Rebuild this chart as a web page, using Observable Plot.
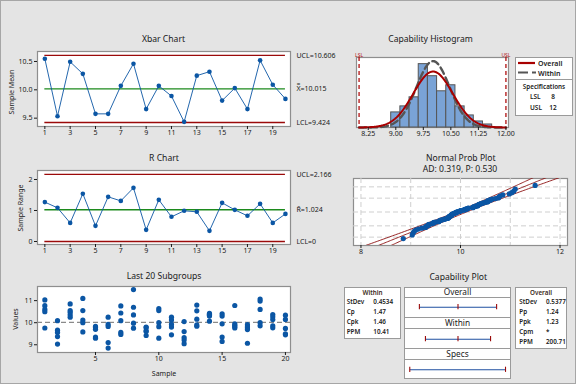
<!DOCTYPE html>
<html><head><meta charset="utf-8">
<script src="https://cdn.jsdelivr.net/npm/d3@7"></script>
<script src="https://cdn.jsdelivr.net/npm/@observablehq/plot@0.6"></script>
<style>
html,body{margin:0;padding:0;background:#e4e4e4;}
#root{position:relative;width:576px;height:384px;background:#e4e4e4;overflow:hidden;font-family:"Noto Sans",sans-serif;color:#1a1a1a;}
</style></head><body><div id="root"></div>
<script>
// ---------- data ----------
const samples = d3.range(1, 21);
const xbarMeans = [10.547, 9.535, 10.494, 10.282, 9.576, 9.576, 10.07, 10.46, 9.66, 10.07, 9.89, 9.435, 10.25, 10.32, 9.81, 10.03, 9.66, 10.52, 10.09, 9.84];
const sampleRanges = [1.27, 1.086, 0.60, 1.54, 0.505, 1.44, 1.31, 1.73, 0.376, 1.344, 0.796, 0.99, 0.957, 0.344, 1.247, 1.02, 0.828, 1.215, 0.60, 0.89];
const subgroupValues = [
  [11.03, 10.77, 10.60, 10.50, 9.76],
  [10.09, 9.66, 9.56, 9.37, 9.03],
  [10.85, 10.55, 10.47, 10.36, 10.25],
  [11.10, 10.55, 10.12, 10.00, 9.58],
  [9.83, 9.78, 9.70, 9.35, 9.30],
  [10.25, 9.92, 9.83, 9.10, 8.85],
  [10.76, 10.44, 10.09, 9.56, 9.47],
  [11.50, 10.70, 10.35, 9.98, 9.75],
  [9.80, 9.78, 9.64, 9.60, 9.42],
  [10.64, 10.55, 10.00, 9.82, 9.30],
  [10.25, 10.12, 9.92, 9.80, 9.45],
  [10.05, 9.60, 9.33, 9.22, 9.05],
  [10.80, 10.54, 10.16, 9.90, 9.84],
  [10.42, 10.38, 10.34, 10.30, 10.07],
  [10.40, 10.30, 9.95, 9.35, 9.15],
  [10.78, 9.95, 9.88, 9.82, 9.76],
  [9.91, 9.82, 9.76, 9.69, 9.07],
  [11.07, 10.98, 10.60, 10.00, 9.86],
  [10.37, 10.27, 10.14, 9.86, 9.77],
  [10.34, 10.15, 9.74, 9.50, 9.45]
];
const xbarLimitNames = ["UCL", "X\u033F", "LCL"];
const xbarLimitValues = [10.606, 10.015, 9.424];
const rLimitNames = ["UCL", "R\u0304", "LCL"];
const rLimitValues = [2.166, 1.024, 0];
const xbarTicks = [1, 3, 5, 7, 9, 11, 13, 15, 17, 19];
const subgroupTicks = [5, 10, 15, 20];
const histBinStarts = [8.875, 9.125, 9.375, 9.625, 9.875, 10.125, 10.375, 10.625, 10.875, 11.125, 11.375];
const histCounts = [5, 7, 10, 21, 17, 12, 14, 7, 4, 2, 1];
const histBinWidth = 0.25;
const histTicks = [8.25, 9.00, 9.75, 10.50, 11.25, 12.00];
const specNames = ["LSL", "USL"];
const specValues = [8, 12];
const processMean = 10.015;
const stdWithin = 0.4534;
const stdOverall = 0.5377;
const probTicks = [8, 10, 12];
const probGridX = [8, 9, 10, 11, 12];
const probGridP = [0.01, 0.1, 0.5, 0.9, 0.99];
const adText = "AD: 0.319, P: 0.530";
const withinStats = [["StDev", "0.4534"], ["Cp", "1.47"], ["Cpk", "1.46"], ["PPM", "10.41"]];
const overallStats = [["StDev", "0.5377"], ["Pp", "1.24"], ["Ppk", "1.23"], ["Cpm", "*"], ["PPM", "200.71"]];

// ---------- helpers ----------
const root = document.getElementById("root");
const FONT = '"Noto Sans", "DejaVu Sans", sans-serif';
const BLUE = "#0b56a4", RED = "#9b0a0a", GREEN = "#1c8a1c", FRAME = "#8e8e8e";

function txt(s, x, y, o = {}) {
  const {size = 7, weight = 400, anchor = "middle", color = "#1a1a1a", rotate = 0} = o;
  const d = document.createElement("div");
  d.textContent = s;
  d.style.cssText = `position:absolute;left:${x}px;top:${y}px;font-size:${size}px;font-weight:${weight};color:${color};white-space:nowrap;line-height:1;font-family:${FONT};`;
  const tx = anchor === "middle" ? "-50%" : anchor === "end" ? "-100%" : "0";
  d.style.transform = `translate(${tx},-50%)` + (rotate ? ` rotate(${rotate}deg)` : "");
  root.appendChild(d);
}
function box(x0, y0, x1, y1, bg = "white", border = "#9a9a9a") {
  const d = document.createElement("div");
  d.style.cssText = `position:absolute;left:${x0}px;top:${y0}px;width:${x1 - x0}px;height:${y1 - y0}px;box-sizing:border-box;border:1px solid ${border};background:${bg};`;
  root.appendChild(d);
}
function panel(frame, m, options) {
  const [x0, y0, x1, y1] = frame; const [mt, mr, mb, ml] = m;
  const svg = Plot.plot({
    width: x1 - x0 + ml + mr, height: y1 - y0 + mt + mb,
    marginTop: mt, marginRight: mr, marginBottom: mb, marginLeft: ml,
    style: {background: "transparent", overflow: "visible", fontFamily: FONT, fontSize: "7px", color: "#1a1a1a"},
    ...options
  });
  svg.style.position = "absolute";
  svg.style.left = (x0 - ml) + "px";
  svg.style.top = (y0 - mt) + "px";
  root.appendChild(svg);
}
function qnorm(p) {
  const a = [-3.969683028665376e+01, 2.209460984245205e+02, -2.759285104469687e+02, 1.383577518672690e+02, -3.066479806614716e+01, 2.506628277459239e+00];
  const b = [-5.447609879822406e+01, 1.615858368580409e+02, -1.556989798598866e+02, 6.680131188771972e+01, -1.328068155288572e+01];
  const c = [-7.784894002430293e-03, -3.223964580411365e-01, -2.400758277161838e+00, -2.549732539343734e+00, 4.374664141464968e+00, 2.938163982698783e+00];
  const d = [7.784695709041462e-03, 3.224671290700398e-01, 2.445134137142996e+00, 3.754408661907416e+00];
  const pl = 0.02425; let q, r;
  if (p < pl) { q = Math.sqrt(-2 * Math.log(p)); return (((((c[0]*q+c[1])*q+c[2])*q+c[3])*q+c[4])*q+c[5])/((((d[0]*q+d[1])*q+d[2])*q+d[3])*q+1); }
  if (p <= 1 - pl) { q = p - 0.5; r = q*q; return (((((a[0]*r+a[1])*r+a[2])*r+a[3])*r+a[4])*r+a[5])*q/(((((b[0]*r+b[1])*r+b[2])*r+b[3])*r+b[4])*r+1); }
  q = Math.sqrt(-2 * Math.log(1 - p)); return -(((((c[0]*q+c[1])*q+c[2])*q+c[3])*q+c[4])*q+c[5])/((((d[0]*q+d[1])*q+d[2])*q+d[3])*q+1);
}
const pdf = (x, m, s) => Math.exp(-0.5 * ((x - m) / s) ** 2) / (s * Math.sqrt(2 * Math.PI));

// ---------- Xbar chart ----------
const xbarData = samples.map((s, i) => ({s, v: xbarMeans[i]}));
const xbarLab = xbarLimitNames.map((n, i) => ({v: xbarLimitValues[i], t: `${n}=${n === "LCL" ? xbarLimitValues[i] : xbarLimitValues[i].toFixed(3)}`}));
panel([37, 51, 290, 126], [4, 62, 14, 37], {
  x: {domain: [0.42, 20.4]}, y: {domain: [9.353, 10.676]},
  marks: [
    Plot.frame({fill: "white", stroke: FRAME, strokeWidth: 1.2}),
    Plot.ruleY([xbarLimitValues[0], xbarLimitValues[2]], {x1: 1, x2: 20, stroke: RED, strokeWidth: 1.3}),
    Plot.ruleY([xbarLimitValues[1]], {x1: 1, x2: 20, stroke: GREEN, strokeWidth: 1.3}),
    Plot.line(xbarData, {x: "s", y: "v", stroke: BLUE, strokeWidth: 0.9}),
    Plot.dot(xbarData, {x: "s", y: "v", r: 2.3, fill: BLUE}),
    Plot.axisX({ticks: xbarTicks, tickSize: 3, tickPadding: 1, label: null, fontSize: 7}),
    Plot.axisY({ticks: [9.5, 10, 10.5], tickFormat: ".1f", tickSize: 3, tickPadding: 2, label: null, fontSize: 7}),
    Plot.text(xbarLab, {y: "v", text: "t", frameAnchor: "right", dx: 6, textAnchor: "start", fontSize: 7})
  ]
});

// ---------- R chart ----------
const rData = samples.map((s, i) => ({s, v: sampleRanges[i]}));
const rLab = rLimitNames.map((n, i) => ({v: rLimitValues[i], t: `${n}=${rLimitValues[i]}`}));
panel([37, 170, 290, 244], [4, 62, 14, 37], {
  x: {domain: [0.42, 20.4]}, y: {domain: [-0.097, 2.29]},
  marks: [
    Plot.frame({fill: "white", stroke: FRAME, strokeWidth: 1.2}),
    Plot.ruleY([rLimitValues[0], rLimitValues[2]], {x1: 1, x2: 20, stroke: RED, strokeWidth: 1.3}),
    Plot.ruleY([rLimitValues[1]], {x1: 1, x2: 20, stroke: GREEN, strokeWidth: 1.3}),
    Plot.line(rData, {x: "s", y: "v", stroke: BLUE, strokeWidth: 0.9}),
    Plot.dot(rData, {x: "s", y: "v", r: 2.3, fill: BLUE}),
    Plot.axisX({ticks: xbarTicks, tickSize: 3, tickPadding: 1, label: null, fontSize: 7}),
    Plot.axisY({ticks: [0, 1, 2], tickFormat: "d", tickSize: 3, tickPadding: 2, label: null, fontSize: 7}),
    Plot.text(rLab, {y: "v", text: "t", frameAnchor: "right", dx: 6, textAnchor: "start", fontSize: 7})
  ]
});

// ---------- Last 20 subgroups ----------
const subData = subgroupValues.flatMap((vals, i) => vals.map(v => ({s: samples[i], v})));
panel([37, 286, 290, 352], [4, 4, 14, 37], {
  x: {domain: [0.42, 20.4]}, y: {domain: [8.65, 11.64]},
  marks: [
    Plot.frame({fill: "white", stroke: FRAME, strokeWidth: 1.2}),
    Plot.ruleY([processMean], {stroke: "#8a8a8a", strokeWidth: 1.4, strokeDasharray: "5,3"}),
    Plot.dot(subData, {x: "s", y: "v", r: 2.6, fill: BLUE}),
    Plot.axisX({ticks: subgroupTicks, tickSize: 3, tickPadding: 1, label: null, fontSize: 7}),
    Plot.axisY({ticks: [9, 10, 11], tickFormat: "d", tickSize: 3, tickPadding: 2, label: null, fontSize: 7})
  ]
});

// ---------- Capability histogram ----------
const histData = histBinStarts.map((s, i) => ({x1: s, x2: s + histBinWidth, y: histCounts[i]}));
const nObs = d3.sum(histCounts);
const curveX = d3.range(8, 12.0001, 0.02);
const overallCurve = curveX.map(x => ({x, y: nObs * histBinWidth * pdf(x, processMean, stdOverall)}));
const withinCurve = curveX.map(x => ({x, y: nObs * histBinWidth * pdf(x, processMean, stdWithin)}));
const specData = specNames.map((n, i) => ({n, v: specValues[i]}));
panel([356, 57, 508, 127], [10, 4, 14, 4], {
  x: {domain: [7.93, 12.07]}, y: {domain: [0, 23.2], axis: null},
  marks: [
    Plot.frame({fill: "white", stroke: FRAME, strokeWidth: 1.2}),
    Plot.rectY(histData, {x1: "x1", x2: "x2", y: "y", fill: "#7aa3d6", stroke: "#555", strokeWidth: 1}),
    Plot.ruleX(specData, {x: "v", stroke: "#b01010", strokeWidth: 1.3, strokeDasharray: "4,3"}),
    Plot.line(withinCurve, {x: "x", y: "y", stroke: "#555", strokeWidth: 2.4, strokeDasharray: "7,4"}),
    Plot.line(overallCurve, {x: "x", y: "y", stroke: "#a80000", strokeWidth: 2}),
    Plot.text(specData, {x: "v", text: "n", frameAnchor: "top", dy: -4, fontSize: 5, fill: "#b01010"}),
    Plot.axisX({ticks: histTicks, tickFormat: ".2f", tickSize: 3, tickPadding: 1, label: null, fontSize: 7})
  ]
});

// legend
box(515, 57, 573, 80);
box(515, 79, 573, 116);
const lg = document.createElementNS("http://www.w3.org/2000/svg", "svg");
lg.setAttribute("width", 30); lg.setAttribute("height", 20);
lg.style.cssText = "position:absolute;left:515px;top:57px;";
lg.innerHTML = `<line x1="3" x2="20" y1="6" y2="6" stroke="#a80000" stroke-width="2.2"/>
<line x1="3" x2="21" y1="15.5" y2="15.5" stroke="#555" stroke-width="2.2" stroke-dasharray="10,4"/>`;
root.appendChild(lg);
txt("Overall", 538, 63, {size: 7, weight: 600, anchor: "start"});
txt("Within", 538, 72.5, {size: 7, weight: 600, anchor: "start"});
txt("Specifications", 544, 87, {size: 6.3, weight: 600});
specNames.forEach((n, i) => {
  txt(n, 530, 97 + i * 10.5, {size: 6.5, weight: 600, anchor: "start"});
  txt(String(specValues[i]), 553, 97 + i * 10.5, {size: 6.5, weight: 600});
});

// ---------- Normal probability plot ----------
const sorted = subData.map(d => d.v).sort(d3.ascending);
const nP = sorted.length;
const probData = sorted.map((v, i) => ({v, z: qnorm((i + 1 - 0.3) / (nP + 0.4))}));
const zLine = d3.range(-3.2, 3.2001, 0.05);
const ciLines = [-1, 0, 1].flatMap(k => zLine.map(z => ({k, z,
  x: processMean + stdOverall * z + k * 1.96 * stdOverall * Math.sqrt(1 / nP + z * z / (2 * (nP - 1)))})));
panel([353, 178, 567, 245], [4, 4, 14, 4], {
  x: {domain: [7.85, 12.15]}, y: {domain: [-3.1, 3.1], axis: null},
  marks: [
    Plot.frame({fill: "white", stroke: FRAME, strokeWidth: 1.2}),
    Plot.ruleX(probGridX, {stroke: "#cfcfcf", strokeDasharray: "5,3"}),
    Plot.ruleY(probGridP.map(qnorm), {stroke: "#cfcfcf", strokeDasharray: "5,3"}),
    Plot.line(ciLines, {x: "x", y: "z", z: "k", stroke: "#8b0d0d", strokeWidth: 0.9, clip: true}),
    Plot.dot(probData, {x: "v", y: "z", r: 2.6, fill: BLUE}),
    Plot.axisX({ticks: probTicks, tickFormat: "d", tickSize: 3, tickPadding: 1, label: null, fontSize: 7})
  ]
});

// ---------- Capability plot ----------
box(404, 287, 511, 298); box(404, 297, 511, 318);
box(404, 317, 511, 329); box(404, 328, 511, 349);
box(404, 348, 511, 360); box(404, 359, 511, 379);
txt("Overall", 457.5, 292.3, {size: 8.3});
txt("Within", 457.5, 323, {size: 8.3});
txt("Specs", 457.5, 354.3, {size: 8.3});
const capRows = [
  {name: "Overall", lo: processMean - 3 * stdOverall, mid: processMean, hi: processMean + 3 * stdOverall, y: 19.7},
  {name: "Within", lo: processMean - 3 * stdWithin, mid: processMean, hi: processMean + 3 * stdWithin, y: 51.7},
  {name: "Specs", lo: specValues[0], mid: null, hi: specValues[1], y: 82.3}
];
const capTicks = capRows.flatMap(r => [r.lo, r.mid, r.hi].filter(v => v != null).map(x => ({x, y: r.y})));
panel([404, 287, 511, 379], [0, 0, 0, 0], {
  x: {domain: [7.78, 12.25], axis: null}, y: {domain: [0, 92], range: [0, 92], axis: null},
  marks: [
    Plot.link(capRows, {x1: "lo", x2: "hi", y1: "y", y2: "y", stroke: "#1f4fa0", strokeWidth: 1.1}),
    Plot.ruleX(capTicks, {x: "x", y1: d => d.y - 2.6, y2: d => d.y + 2.6, stroke: "#9b0a0a", strokeWidth: 1.1})
  ]
});
// stats boxes
box(344, 287, 401, 339);
txt("Within", 372.5, 292.6, {size: 6.3, weight: 600, color: "#3a2a20"});
withinStats.forEach(([k, v], i) => {
  txt(k, 346.7, 302.3 + i * 10, {size: 6.3, weight: 600, anchor: "start"});
  txt(v, 373.3, 302.3 + i * 10, {size: 6.3, weight: 600, anchor: "start"});
});
box(515, 287, 567, 349);
txt("Overall", 541, 292.6, {size: 6.3, weight: 600, color: "#3a2a20"});
overallStats.forEach(([k, v], i) => {
  txt(k, 519.3, 302.3 + i * 10, {size: 6.3, weight: 600, anchor: "start"});
  txt(v, 546, 302.3 + i * 10, {size: 6.3, weight: 600, anchor: "start"});
});

// ---------- titles & axis labels ----------
txt("Xbar Chart", 163.5, 38.5, {size: 8.6});
txt("R Chart", 164, 157.7, {size: 8.6});
txt("Last 20 Subgroups", 164, 276, {size: 8.6});
txt("Capability Histogram", 430.5, 38.5, {size: 8.6});
txt("Normal Prob Plot", 460.8, 157.7, {size: 8.6});
txt(adText, 460, 169, {size: 8.6});
txt("Capability Plot", 458.3, 276.7, {size: 8.6});
txt("Sample Mean", 10.5, 92, {size: 7, rotate: -90});
txt("Sample Range", 20, 208, {size: 7, rotate: -90});
txt("Values", 15, 319, {size: 7, rotate: -90});
txt("Sample", 164, 373, {size: 7});

// outer border
const bd = document.createElement("div");
bd.style.cssText = "position:absolute;left:0;top:0;width:576px;height:384px;box-sizing:border-box;border:1px solid #a6a6a6;pointer-events:none;";
root.appendChild(bd);
</script></body></html>
